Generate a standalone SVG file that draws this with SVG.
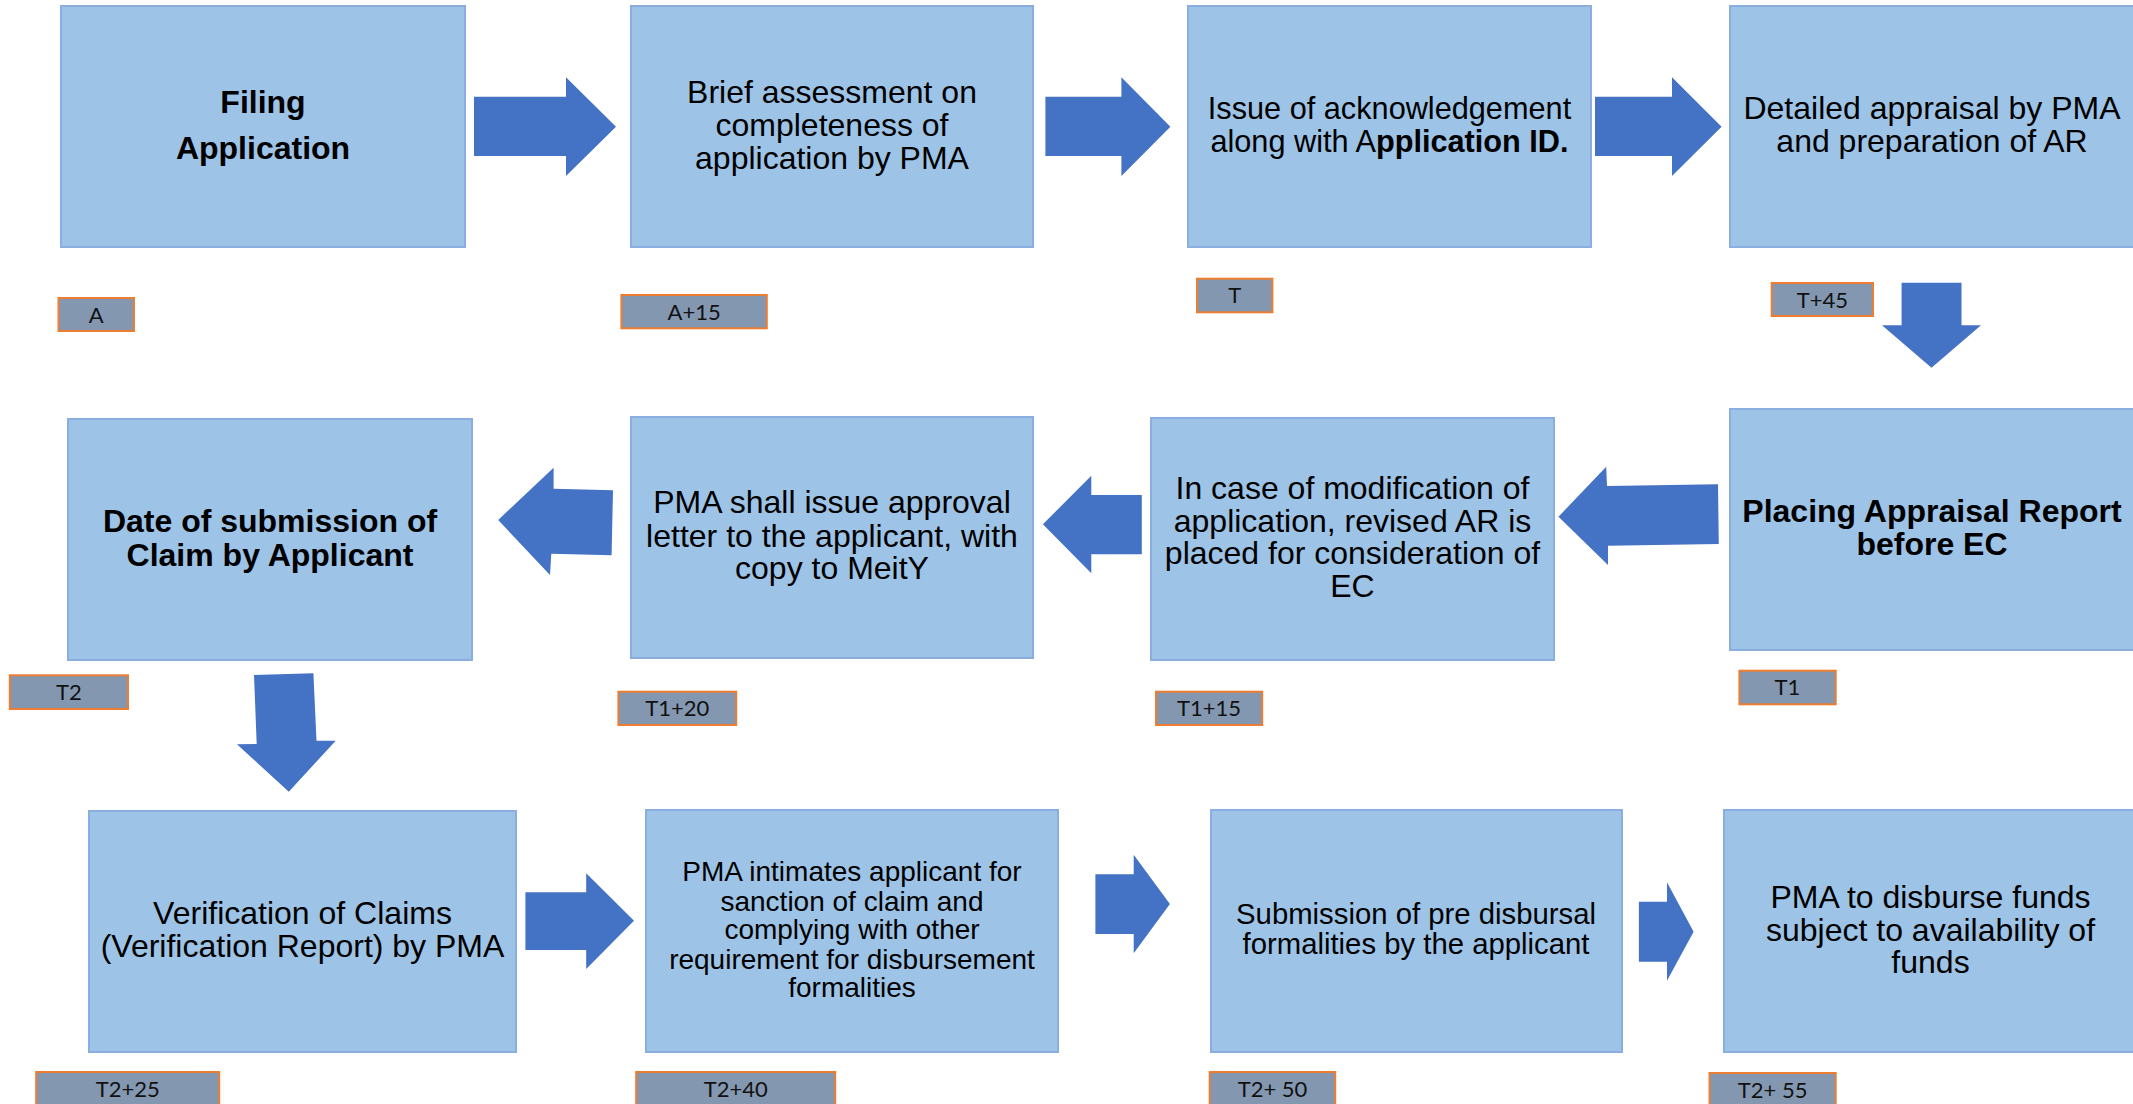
<svg xmlns="http://www.w3.org/2000/svg" width="2133" height="1104" viewBox="0 0 2133 1104">
<style>
.box{fill:#9DC3E6;stroke:#8AAEE0;stroke-width:2}
.t{font-family:"Liberation Sans",Arial,sans-serif;font-size:32px;fill:#000;text-anchor:middle}
.b{font-weight:bold}
.lab{fill:#8497B0;stroke:#ED7D31;stroke-width:2}
.lt{font-family:Lato,"Liberation Sans",sans-serif;font-size:22px;fill:#111;text-anchor:middle}
.arr{fill:#4472C4}
</style>
<rect width="2133" height="1104" fill="#fff"/>
<g id="connectors">
<polygon class="arr" points="474,96.7 566,96.7 566,77.3 616,126.7 566,176 566,156 474,156"/>
<polygon class="arr" points="1045.4,96.7 1121.4,96.7 1121.4,77.3 1170.4,126.7 1121.4,176 1121.4,156 1045.4,156"/>
<polygon class="arr" points="1595,96.7 1672,96.7 1672,77.3 1721.6,126.7 1672,176 1672,156 1595,156"/>
<polygon class="arr" points="1901.6,282.7 1961.5,282.7 1961.5,325.3 1981,325.3 1931.5,367.7 1882,325.3 1901.6,325.3"/>
<polygon class="arr" points="1718,484.3 1718.8,544 1608,545.7 1608,565 1558.5,516.7 1606.2,466.7 1607,486"/>
<polygon class="arr" points="1141.8,495 1141.8,554.3 1091.3,554.3 1091.3,573.3 1042.9,524.3 1091.3,475.7 1091.3,495"/>
<polygon class="arr" points="613,490.3 611.6,555.3 551.3,553.7 550,575 498.2,520 553.6,467.7 553.6,488.7"/>
<polygon class="arr" points="254,675 313.4,673.3 316.5,740.7 335.7,740.7 288.8,791.7 237,744.3 256.7,744"/>
<polygon class="arr" points="525.4,892.3 586.2,892.3 586.2,873.3 634,920.7 586.2,969 586.2,950 525.4,950"/>
<polygon class="arr" points="1095.4,874.3 1133.7,874.3 1133.7,854.7 1169.9,904 1133.7,953.3 1133.7,934 1095.4,934"/>
<polygon class="arr" points="1638.9,901.7 1667,901.7 1667,882.3 1693.6,931.7 1667,980.7 1667,961.7 1638.9,961.7"/>
</g>
<g id="n1"><rect class="box" x="61" y="6" width="404" height="241"/>
<text class="t b" x="263" y="113">Filing</text><text class="t b" x="263" y="159">Application</text></g>
<g id="n2"><rect class="box" x="631" y="6" width="402" height="241"/>
<text class="t" x="832" y="103">Brief assessment on</text><text class="t" x="832" y="136">completeness of</text><text class="t" x="832" y="168.5">application by PMA</text></g>
<g id="n3"><rect class="box" x="1188" y="6" width="403" height="241"/>
<text class="t" style="font-size:30.7px" x="1389.5" y="119.3">Issue of acknowledgement</text>
<text class="t" style="font-size:30.7px" x="1389.5" y="151.7">along with A<tspan class="b">pplication ID.</tspan></text></g>
<g id="n4"><rect class="box" x="1730" y="6" width="410" height="241"/>
<text class="t" x="1932" y="118.7">Detailed appraisal by PMA</text><text class="t" x="1932" y="151.7">and preparation of AR</text></g>
<g id="n5"><rect class="box" x="1730" y="409" width="410" height="241"/>
<text class="t b" x="1932" y="521.7">Placing Appraisal Report</text><text class="t b" x="1932" y="554.7">before EC</text></g>
<g id="n6"><rect class="box" x="1151" y="418" width="403" height="242"/>
<text class="t" x="1352.5" y="499">In case of modification of</text><text class="t" x="1352.5" y="531.7">application, revised AR is</text><text class="t" x="1352.5" y="564.3">placed for consideration of</text><text class="t" x="1352.5" y="596.7">EC</text></g>
<g id="n7"><rect class="box" x="631" y="417" width="402" height="241"/>
<text class="t" x="832" y="513.3">PMA shall issue approval</text><text class="t" x="832" y="546.7">letter to the applicant, with</text><text class="t" x="832" y="579.3">copy to MeitY</text></g>
<g id="n8"><rect class="box" x="68" y="419" width="404" height="241"/>
<text class="t b" x="270" y="532.3">Date of submission of</text><text class="t b" x="270" y="565.7">Claim by Applicant</text></g>
<g id="n9"><rect class="box" x="89" y="811" width="427" height="241"/>
<text class="t" x="302.5" y="924">Verification of Claims</text><text class="t" x="302.5" y="956.7">(Verification Report) by PMA</text></g>
<g id="n10"><rect class="box" x="646" y="810" width="412" height="242"/>
<text class="t" style="font-size:28px" x="852" y="881">PMA intimates applicant for</text>
<text class="t" style="font-size:28px" x="852" y="910.7">sanction of claim and</text>
<text class="t" style="font-size:28px" x="852" y="939.3">complying with other</text>
<text class="t" style="font-size:28px" x="852" y="969">requirement for disbursement</text>
<text class="t" style="font-size:28px" x="852" y="997.3">formalities</text></g>
<g id="n11"><rect class="box" x="1211" y="810" width="411" height="242"/>
<text class="t" style="font-size:29.3px" x="1416" y="924">Submission of pre disbursal</text>
<text class="t" style="font-size:29.3px" x="1416" y="953.7">formalities by the applicant</text></g>
<g id="n12"><rect class="box" x="1724" y="810" width="413" height="242"/>
<text class="t" x="1930.5" y="907.7">PMA to disburse funds</text><text class="t" x="1930.5" y="941">subject to availability of</text><text class="t" x="1930.5" y="973.3">funds</text></g>
<g id="l1"><rect class="lab" x="58.5" y="298" width="75.5" height="33"/><text class="lt" x="96.2" y="322.7">A</text></g>
<g id="l2"><rect class="lab" x="621.4" y="295" width="145.4" height="33.3"/><text class="lt" x="694.1" y="319.7">A+15</text></g>
<g id="l3"><rect class="lab" x="1197" y="278.7" width="75.4" height="33.6"/><text class="lt" x="1234.7" y="303.4">T</text></g>
<g id="l4"><rect class="lab" x="1771.7" y="283" width="101.3" height="33"/><text class="lt" x="1822.3" y="307.7">T+45</text></g>
<g id="l5"><rect class="lab" x="1739.4" y="670.7" width="96.3" height="33.6"/><text class="lt" x="1787.5" y="695.4">T1</text></g>
<g id="l6"><rect class="lab" x="1156" y="691.7" width="106.2" height="33.3"/><text class="lt" x="1209.1" y="716.4">T1+15</text></g>
<g id="l7"><rect class="lab" x="618.4" y="691.7" width="117.8" height="33.3"/><text class="lt" x="677.3" y="716.4">T1+20</text></g>
<g id="l8"><rect class="lab" x="9.8" y="675.3" width="118.2" height="33.7"/><text class="lt" x="68.9" y="700">T2</text></g>
<g id="l9"><rect class="lab" x="36.2" y="1072" width="183" height="34"/><text class="lt" x="127.7" y="1096.7">T2+25</text></g>
<g id="l10"><rect class="lab" x="636.2" y="1072" width="199" height="34"/><text class="lt" x="735.7" y="1096.7">T2+40</text></g>
<g id="l11"><rect class="lab" x="1209.7" y="1072" width="125.5" height="34"/><text class="lt" x="1272.5" y="1096.7">T2+ 50</text></g>
<g id="l12"><rect class="lab" x="1709.5" y="1073" width="126.2" height="34"/><text class="lt" x="1772.6" y="1097.7">T2+ 55</text></g>
</svg>
